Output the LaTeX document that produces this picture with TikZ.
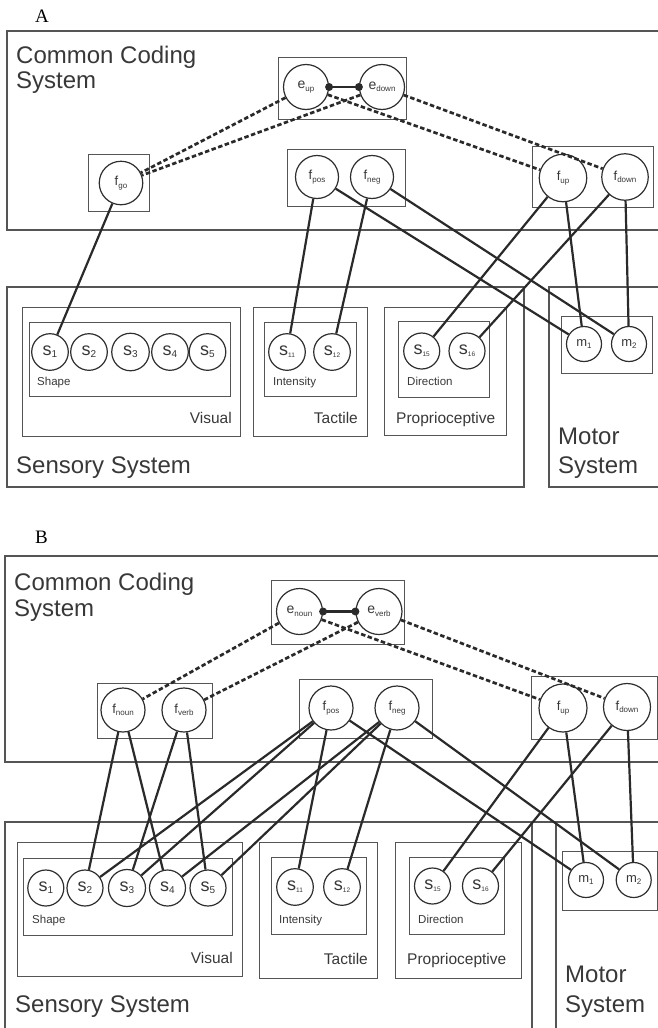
\documentclass[tikz,border=0pt]{standalone}
\usepackage{fontspec}
\setmainfont{Liberation Sans}
\newfontfamily\serifA{Liberation Serif}
\newcommand{\cl}[5]{{\fontsize{#3}{#3}\selectfont #1}\raisebox{-#5pt}{\fontsize{#4}{#4}\selectfont #2}}
\definecolor{linec}{HTML}{2A2A2A}
\definecolor{boxc}{HTML}{555555}
\definecolor{circc}{HTML}{2E2E2E}
\definecolor{txtc}{HTML}{383838}
\begin{document}
\begin{tikzpicture}[x=1pt,y=-1pt,
  box/.style={draw=boxc, line width=1pt},
  outer/.style={draw=boxc, line width=1.2pt},
  circ/.style={circle, draw=circc, line width=1.2pt, inner sep=0pt, text=txtc, fill=white},
  conn/.style={draw=linec, line width=2.2pt},
  dconn/.style={draw=linec, line width=2.7pt, dash pattern=on 4.5pt off 2.5pt},
  lbl/.style={inner sep=0pt, text=txtc},
  big/.style={lbl, font=\fontsize{24}{24}\selectfont},
  mid/.style={lbl, font=\fontsize{15.5}{15.5}\selectfont},
  small/.style={lbl, font=\fontsize{11.5}{11.5}\selectfont},
  panel/.style={inner sep=0pt, font=\serifA\fontsize{19}{19}\selectfont, text=black}
]
\useasboundingbox (0,0) rectangle (658,1028);

% ================= PANEL A =================
\node[panel, anchor=base west] (Alab) at (35,22) {A};
\draw[outer] (662,31) -- (7,31) -- (7,230) -- (662,230);
\node[big, anchor=base west] (Accs1) at (16,63) {Common Coding};
\node[big, anchor=base west] (Accs2) at (16,88) {System};

\draw[box] (278,57) rectangle (406,119);
\draw[box] (88,154) rectangle (149,211);
\draw[box] (287,149) rectangle (405,206);
\draw[box] (532,146) rectangle (653,207);

% sensory
\draw[outer] (7,287) rectangle (524,487);
\node[big, anchor=base west] (Ass) at (16,473) {Sensory System};
\draw[box] (22,307) rectangle (240,436);
\draw[box] (29,322) rectangle (230,396);
\node[small, anchor=base west] (Ashape) at (37,385) {Shape};
\node[mid, anchor=base east] (Avis) at (232,423) {Visual};
\draw[box] (253,307) rectangle (367,436);
\draw[box] (264,322) rectangle (356,396);
\node[small, anchor=base west] (Aint) at (273,385) {Intensity};
\node[mid, anchor=base east] (Atac) at (358,423) {Tactile};
\draw[box] (384,307) rectangle (506,435);
\draw[box] (398,321) rectangle (489,397);
\node[small, anchor=base west] (Adir) at (407,385) {Direction};
\node[mid, anchor=base west] (Apro) at (396,423) {Proprioceptive};
% motor
\draw[outer] (662,287) -- (549,287) -- (549,487) -- (662,487);
\draw[box] (561,316) rectangle (652,373);
\node[big, anchor=base west] (Amot1) at (558,444) {Motor};
\node[big, anchor=base west] (Amot2) at (558,473) {System};

% circles A
\node[circ, minimum size=45pt] (Aeup) at (306,87) {\cl{e}{up}{14}{8}{2.5}};
\node[circ, minimum size=45pt] (Aedown) at (382,87) {\cl{e}{down}{14}{8}{2.5}};
\node[circ, minimum size=43.5pt] (Afgo) at (121,183) {\cl{f}{go}{13}{8}{2.5}};
\node[circ, minimum size=43pt] (Afpos) at (317,177) {\cl{f}{pos}{13}{8}{2.5}};
\node[circ, minimum size=43pt] (Afneg) at (372,177) {\cl{f}{neg}{13}{8}{2.5}};
\node[circ, minimum size=47.5pt] (Afup) at (563,178) {\cl{f}{up}{13}{8}{2.5}};
\node[circ, minimum size=46.5pt] (Afdown) at (625,177) {\cl{f}{down}{13}{8}{2.5}};

\node[circ, minimum size=36.6pt] (As1) at (50,352) {\cl{s}{1}{18}{10}{2}};
\node[circ, minimum size=36.6pt] (As2) at (89,352) {\cl{s}{2}{18}{10}{2}};
\node[circ, minimum size=37.5pt] (As3) at (130.5,352) {\cl{s}{3}{18}{10}{2}};
\node[circ, minimum size=36.6pt] (As4) at (170,352) {\cl{s}{4}{18}{10}{2}};
\node[circ, minimum size=36.6pt] (As5) at (207.5,352) {\cl{s}{5}{18}{10}{2}};
\node[circ, minimum size=36.6pt] (As11) at (287,352) {\cl{s}{11}{18}{6.5}{2}};
\node[circ, minimum size=36.6pt] (As12) at (332,352) {\cl{s}{12}{18}{6.5}{2}};
\node[circ, minimum size=36pt] (As15) at (421.7,351) {\cl{s}{15}{18}{6.5}{2}};
\node[circ, minimum size=36pt] (As16) at (467,351) {\cl{s}{16}{18}{6.5}{2}};
\node[circ, minimum size=35pt] (Am1) at (584,344) {\cl{m}{1}{13}{8}{1.5}};
\node[circ, minimum size=35pt] (Am2) at (629,344) {\cl{m}{2}{13}{8}{1.5}};

% e link A
\draw[conn] (Aeup.east) -- (Aedown.west);
\fill[linec] (Aeup.east) circle (4);
\fill[linec] (Aedown.west) circle (4);

% dashed A
\draw[dconn] (Aeup) -- (Afgo);
\draw[dconn] (Aedown) -- (Afgo);
\draw[dconn] (Aeup) -- (Afup);
\draw[dconn] (Aedown) -- (Afdown);

% solid A
\draw[conn] (Afgo) -- (As1);
\draw[conn] (Afpos) -- (As11);
\draw[conn] (Afneg) -- (As12);
\draw[conn] (Afpos) -- (Am1);
\draw[conn] (Afneg) -- (Am2);
\draw[conn] (Afup) -- (As15);
\draw[conn] (Afup) -- (Am1);
\draw[conn] (Afdown) -- (As16);
\draw[conn] (Afdown) -- (Am2);

% ================= PANEL B =================
\node[panel, anchor=base west] (Blab) at (35,543) {B};
\draw[outer] (662,556) -- (5,556) -- (5,762) -- (662,762);
\node[big, anchor=base west] (Bccs1) at (14,590) {Common Coding};
\node[big, anchor=base west] (Bccs2) at (14,616) {System};

\draw[box] (271,580) rectangle (404,644);
\draw[box] (97,683) rectangle (212,738);
\draw[box] (299,679) rectangle (432,738);
\draw[box] (531,676) rectangle (657,739);

% sensory B
\draw[outer] (5,1032) -- (5,822) -- (532,822) -- (532,1032);
\draw[outer] (532,822) -- (556,822);
\node[big, anchor=base west] (Bss) at (15,1012) {Sensory System};
\draw[box] (17,842) rectangle (242,976);
\draw[box] (23,858) rectangle (232,935);
\node[small, anchor=base west] (Bshape) at (32,923) {Shape};
\node[mid, anchor=base east] (Bvis) at (233,963) {Visual};
\draw[box] (259,842) rectangle (377,978);
\draw[box] (271,857) rectangle (366,934);
\node[small, anchor=base west] (Bint) at (279,923) {Intensity};
\node[mid, anchor=base east] (Btac) at (368,964) {Tactile};
\draw[box] (395,842) rectangle (521,978);
\draw[box] (409,857) rectangle (504,934);
\node[small, anchor=base west] (Bdir) at (418,923) {Direction};
\node[mid, anchor=base west] (Bpro) at (407,964) {Proprioceptive};
% motor B
\draw[outer] (556,1032) -- (556,822) -- (662,822);
\draw[box] (562,851) rectangle (657,910);
\node[big, anchor=base west] (Bmot1) at (565,982) {Motor};
\node[big, anchor=base west] (Bmot2) at (565,1012) {System};

% circles B
\node[circ, minimum size=46pt] (Benoun) at (299.5,611.5) {\cl{e}{noun}{14}{8}{2.5}};
\node[circ, minimum size=46pt] (Beverb) at (379,611.5) {\cl{e}{verb}{14}{8}{2.5}};
\node[circ, minimum size=44pt] (Bfnoun) at (123,710) {\cl{f}{noun}{13}{8}{2.5}};
\node[circ, minimum size=44pt] (Bfverb) at (184,710) {\cl{f}{verb}{13}{8}{2.5}};
\node[circ, minimum size=44pt] (Bfpos) at (331,708) {\cl{f}{pos}{13}{8}{2.5}};
\node[circ, minimum size=44pt] (Bfneg) at (397,708) {\cl{f}{neg}{13}{8}{2.5}};
\node[circ, minimum size=48pt] (Bfup) at (563,708) {\cl{f}{up}{13}{8}{2.5}};
\node[circ, minimum size=47pt] (Bfdown) at (627,707) {\cl{f}{down}{13}{8}{2.5}};

\node[circ, minimum size=36pt] (Bs1) at (45.8,888) {\cl{s}{1}{18}{10}{2}};
\node[circ, minimum size=36pt] (Bs2) at (85,888) {\cl{s}{2}{18}{10}{2}};
\node[circ, minimum size=37pt] (Bs3) at (127,888) {\cl{s}{3}{18}{10}{2}};
\node[circ, minimum size=36pt] (Bs4) at (167.5,888) {\cl{s}{4}{18}{10}{2}};
\node[circ, minimum size=36pt] (Bs5) at (208,888) {\cl{s}{5}{18}{10}{2}};
\node[circ, minimum size=36.6pt] (Bs11) at (295,887) {\cl{s}{11}{18}{6.5}{2}};
\node[circ, minimum size=36.6pt] (Bs12) at (342,887) {\cl{s}{12}{18}{6.5}{2}};
\node[circ, minimum size=36pt] (Bs15) at (432.5,886) {\cl{s}{15}{18}{6.5}{2}};
\node[circ, minimum size=36pt] (Bs16) at (480.5,886) {\cl{s}{16}{18}{6.5}{2}};
\node[circ, minimum size=35pt] (Bm1) at (586,880) {\cl{m}{1}{13}{8}{1.5}};
\node[circ, minimum size=35pt] (Bm2) at (633.7,880) {\cl{m}{2}{13}{8}{1.5}};

% e link B
\draw[conn] (Benoun.east) -- (Beverb.west);
\fill[linec] (Benoun.east) circle (4);
\fill[linec] (Beverb.west) circle (4);

% dashed B
\draw[dconn] (Benoun) -- (Bfnoun);
\draw[dconn] (Beverb) -- (Bfverb);
\draw[dconn] (Benoun) -- (Bfup);
\draw[dconn] (Beverb) -- (Bfdown);

% solid B
\draw[conn] (Bfnoun) -- (Bs2);
\draw[conn] (Bfnoun) -- (Bs4);
\draw[conn] (Bfverb) -- (Bs3);
\draw[conn] (Bfverb) -- (Bs5);
\draw[conn] (Bfpos) -- (Bs2);
\draw[conn] (Bfpos) -- (Bs3);
\draw[conn] (Bfneg) -- (Bs4);
\draw[conn] (Bfneg) -- (Bs5);
\draw[conn] (Bfpos) -- (Bs11);
\draw[conn] (Bfneg) -- (Bs12);
\draw[conn] (Bfpos) -- (Bm1);
\draw[conn] (Bfneg) -- (Bm2);
\draw[conn] (Bfup) -- (Bs15);
\draw[conn] (Bfup) -- (Bm1);
\draw[conn] (Bfdown) -- (Bs16);
\draw[conn] (Bfdown) -- (Bm2);
\end{tikzpicture}
\end{document}
